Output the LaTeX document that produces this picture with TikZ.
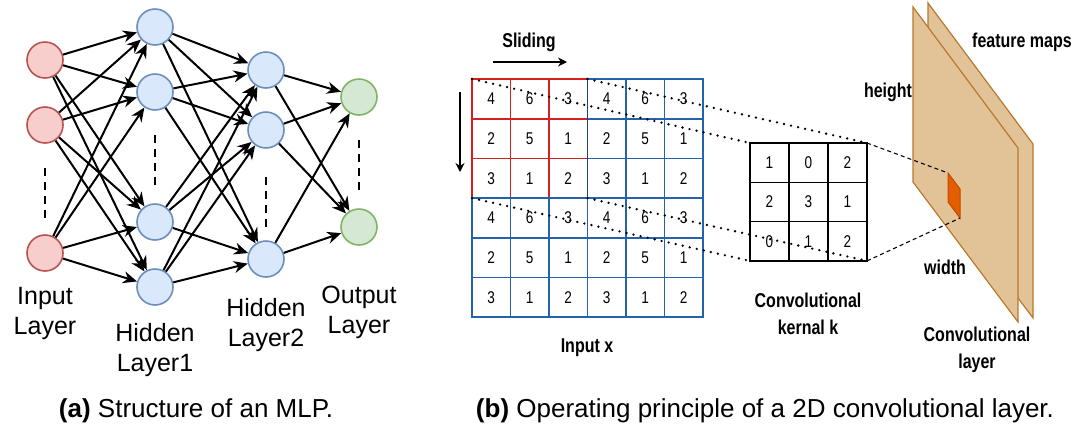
\documentclass[tikz,border=0pt]{standalone}
\usepackage{fontspec}
\setmainfont{Liberation Sans}
\newfontfamily\narrowfont[FakeStretch=0.8]{Liberation Sans}
\usetikzlibrary{arrows.meta}

\definecolor{inFill}{HTML}{F8CECC}
\definecolor{inLine}{HTML}{B85450}
\definecolor{hidFill}{HTML}{DAE8FC}
\definecolor{hidLine}{HTML}{6C8EBF}
\definecolor{outFill}{HTML}{D5E8D4}
\definecolor{outLine}{HTML}{82B366}
\definecolor{gridBlue}{HTML}{2462AC}
\definecolor{gridRed}{HTML}{D42020}
\definecolor{planeFill}{HTML}{E2C398}
\definecolor{planeLine}{HTML}{B8782C}
\definecolor{patchFill}{HTML}{E45E00}
\definecolor{patchLine}{HTML}{C04A00}

\tikzset{
  neuron/.style={circle, minimum size=18pt, inner sep=0pt, line width=0.8pt},
  inneuron/.style={neuron, draw=inLine, fill=inFill},
  hidneuron/.style={neuron, draw=hidLine, fill=hidFill},
  outneuron/.style={neuron, draw=outLine, fill=outFill},
  conn/.style={line width=1pt, -{Stealth[length=7pt,width=6pt]}},
  vdots/.style={line width=0.9pt, dash pattern=on 4pt off 3pt},
  layerlabel/.style={align=center, font=\fontsize{12.5}{15}\selectfont},
  cell/.style={draw, line width=0.8pt, inner sep=0pt, outer sep=0pt,
    minimum width=19.25pt, minimum height=19.85pt,
    font=\narrowfont\fontsize{8.5}{8.5}\selectfont},
  xcell/.style={cell, draw=gridBlue},
  kcell/.style={cell, draw=black, minimum width=19.5pt, minimum height=19.65pt},
  dotline/.style={line width=1.3pt, dash pattern=on 0pt off 3.6pt, line cap=round},
  thindash/.style={line width=0.55pt, dash pattern=on 2pt off 1.6pt},
  plane/.style={fill=planeFill, draw=planeLine, line width=0.6pt},
  boldlabel/.style={align=center, font=\narrowfont\bfseries\fontsize{10}{13.5}\selectfont},
  caption/.style={font=\fontsize{13}{15}\selectfont},
  slide/.style={line width=0.6pt, -{Stealth[length=4.5pt,width=4.5pt]}}
}

\begin{document}
\begin{tikzpicture}[x=0.5pt, y=-0.5pt]
\useasboundingbox (0,0) rectangle (1076,430);

% --- MLP ---
\node[inneuron] (i1) at (45,60) {};
\node[inneuron] (i2) at (45,125) {};
\node[inneuron] (i3) at (45,253) {};

\node[hidneuron] (h1) at (155,27) {};
\node[hidneuron] (h2) at (155,92) {};
\node[hidneuron] (h3) at (155,222) {};
\node[hidneuron] (h4) at (155,287) {};

\node[hidneuron] (g1) at (266,70) {};
\node[hidneuron] (g2) at (266,130) {};
\node[hidneuron] (g3) at (266,259) {};

\node[outneuron] (o1) at (359,97) {};
\node[outneuron] (o2) at (359,227) {};

\foreach \a in {i1,i2,i3}
  \foreach \b in {h1,h2,h3,h4}
    \draw[conn] (\a) -- (\b);
\foreach \a in {h1,h2,h3,h4}
  \foreach \b in {g1,g2,g3}
    \draw[conn] (\a) -- (\b);
\foreach \a in {g1,g2,g3}
  \foreach \b in {o1,o2}
    \draw[conn] (\a) -- (\b);

% skipped neurons
\draw[vdots] (45,168) -- (45,218);
\draw[vdots] (155,135) -- (155,185);
\draw[vdots] (266,177) -- (266,227);
\draw[vdots] (359,140) -- (359,190);

\node[layerlabel] (lin)  at (45,313)  {Input\\Layer};
\node[layerlabel] (lh1)  at (155,350) {Hidden\\Layer1};
\node[layerlabel] (lh2)  at (266,325) {Hidden\\Layer2};
\node[layerlabel] (lout) at (359,312) {Output\\Layer};

% --- input x ---
\foreach \vals [count=\i] in {{4,6,3,4,6,3},{2,5,1,2,5,1},{3,1,2,3,1,2},
                              {4,6,3,4,6,3},{2,5,1,2,5,1},{3,1,2,3,1,2}}
  \foreach \v [count=\j] in \vals
    \node[xcell] (x\i\j) at ({472+38.5*(\j-0.5)}, {79+39.7*(\i-0.5)}) {\v};

% current window
\foreach \i in {1,2,3}
  \foreach \j in {1,2,3}
    \draw[gridRed, line width=0.8pt] (x\i\j.south west) rectangle (x\i\j.north east);
\draw[gridBlue!70!black, line width=0.8pt] (x14.north west) -- (x34.south west);
\draw[gridBlue, line width=0.8pt] (x41.north west) -- (x43.north east);

% sliding directions
\node[boldlabel] (slide) at (529,42) {Sliding};
\coordinate (sl0) at (493,62);
\coordinate (sl1) at (567,62);
\draw[slide] (sl0) -- (sl1);
\coordinate (sd0) at (460,92);
\coordinate (sd1) at (460,172);
\draw[slide] (sd0) -- (sd1);

\node[boldlabel] (inx) at (587,348) {Input x};

% --- kernel ---
\foreach \vals [count=\i] in {{1,0,2},{2,3,1},{0,1,2}}
  \foreach \v [count=\j] in \vals
    \node[kcell] (k\i\j) at ({750+39*(\j-0.5)}, {143+39.3*(\i-0.5)}) {\v};

\node[boldlabel] (kern) at (808,314) {Convolutional\\kernal k};

% receptive field projections
\draw[dotline] (x11.north west) -- (k11.north west);
\draw[dotline] (x14.north west) -- (k13.north east);
\draw[dotline] (x41.north west) -- (k31.south west);
\draw[dotline] (x44.north west) -- (k33.south east);

% --- feature maps ---
\filldraw[plane] (928,3) -- (1033,144) -- (1033,318) -- (928,178) -- cycle;
\filldraw[plane] (913,7) -- (1018,148) -- (1018,322) -- (913,182) -- cycle;
\filldraw[fill=patchFill, draw=patchLine, line width=0.5pt]
  (948,173) -- (960,189) -- (960,218) -- (948,202) -- cycle;
\coordinate (ptop) at (948,173);
\coordinate (pbot) at (960,218);
\draw[thindash] (k13.north east) -- (ptop);
\draw[thindash] (k33.south east) -- (pbot);

\node[boldlabel] (fm)  at (1022,42) {feature maps};
\node[boldlabel] (hgt) at (888,92)  {height};
\node[boldlabel] (wdt) at (945,267) {width};
\node[boldlabel] (cl)  at (977,350) {Convolutional\\layer};

% --- captions ---
\node[caption] (capa) at (196,411) {\textbf{(a)} Structure of an MLP.};
\node[caption] (capb) at (765,411) {\textbf{(b)} Operating principle of a 2D convolutional layer.};
\end{tikzpicture}
\end{document}
